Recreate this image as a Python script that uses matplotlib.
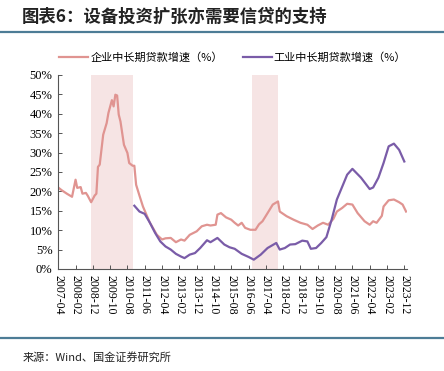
import numpy as np
import pandas as pd
import matplotlib
matplotlib.use("Agg")
import matplotlib.pyplot as plt
from matplotlib.ticker import FuncFormatter

plt.rcParams['font.family'] = ['Noto Sans CJK SC', 'DejaVu Sans']

# 企业中长期贷款增速（%）
ent_dates = ['2007-04', '2007-06', '2007-09', '2007-12', '2008-02', '2008-03', '2008-05', '2008-06',
             '2008-08', '2008-09', '2008-11', '2009-01', '2009-02', '2009-03', '2009-04', '2009-06',
             '2009-08', '2009-09', '2009-11', '2009-12', '2010-01', '2010-02', '2010-03', '2010-04',
             '2010-06', '2010-08', '2010-09', '2010-11', '2010-12', '2011-01', '2011-03', '2011-05',
             '2011-07', '2011-09', '2012-01', '2012-04', '2012-06', '2012-09', '2012-12', '2013-03',
             '2013-05', '2013-08', '2013-12', '2014-03', '2014-06', '2014-08', '2014-11', '2014-12',
             '2015-02', '2015-05', '2015-08', '2015-10', '2015-12', '2016-02', '2016-04', '2016-07',
             '2016-10', '2016-12', '2017-02', '2017-05', '2017-08', '2017-11', '2017-12', '2018-04',
             '2018-08', '2018-12', '2019-04', '2019-07', '2019-10', '2020-01', '2020-04', '2020-07',
             '2020-09', '2020-12', '2021-03', '2021-06', '2021-09', '2022-01', '2022-04', '2022-06',
             '2022-08', '2022-11', '2022-12', '2023-03', '2023-06', '2023-09', '2023-11', '2024-01']
ent_vals = [21.0, 20.3, 19.4, 18.6, 23.0, 20.9, 21.1, 19.4,
            19.6, 18.9, 17.2, 18.9, 19.4, 26.3, 26.9, 34.6,
            37.6, 40.2, 43.5, 41.9, 44.9, 44.7, 39.8, 38.0,
            32.0, 29.9, 27.3, 26.6, 26.6, 21.7, 18.9, 16.1,
            14.0, 11.9, 8.8, 7.6, 7.9, 8.0, 6.9, 7.6,
            7.3, 8.8, 9.7, 11.0, 11.4, 11.2, 11.4, 14.0,
            14.4, 13.3, 12.7, 11.9, 11.2, 11.9, 10.6, 10.1,
            10.1, 11.5, 12.3, 14.4, 16.6, 17.4, 14.8, 13.6,
            12.7, 11.9, 11.4, 10.3, 11.2, 11.9, 11.4, 12.9,
            14.8, 15.7, 16.8, 16.6, 14.4, 12.3, 11.4, 12.3,
            11.9, 13.7, 16.1, 17.7, 17.9, 17.2, 16.6, 14.8]

# 工业中长期贷款增速（%）
ind_dates = ['2010-12', '2011-03', '2011-06', '2011-09', '2011-12', '2012-03', '2012-06', '2012-09',
             '2012-12', '2013-03', '2013-05', '2013-08', '2013-11', '2014-02', '2014-06', '2014-08',
             '2014-12', '2015-04', '2015-07', '2015-10', '2016-02', '2016-06', '2016-09', '2017-01',
             '2017-05', '2017-10', '2017-12', '2018-03', '2018-06', '2018-09', '2019-01', '2019-04',
             '2019-06', '2019-09', '2019-12', '2020-03', '2020-06', '2020-09', '2021-01', '2021-03',
             '2021-06', '2021-11', '2022-04', '2022-06', '2022-09', '2022-12', '2023-03', '2023-06',
             '2023-09', '2023-12']
ind_vals = [16.3, 14.8, 14.2, 11.9, 9.3, 7.1, 5.8, 5.0,
            3.9, 3.2, 2.8, 3.7, 4.1, 5.4, 7.4, 6.9,
            8.0, 6.3, 5.6, 5.2, 3.9, 3.1, 2.4, 3.7,
            5.4, 6.7, 5.0, 5.4, 6.3, 6.4, 7.3, 7.1,
            5.2, 5.4, 6.7, 8.2, 12.7, 17.9, 22.2, 24.3,
            25.8, 23.5, 20.6, 21.0, 23.5, 27.3, 31.6, 32.3,
            30.7, 27.7]

# shaded periods
shade_start = ['2008-11', '2016-08']
shade_end = ['2010-11', '2017-11']

ent_x = pd.to_datetime(ent_dates)
ind_x = pd.to_datetime(ind_dates)
ticks = pd.date_range('2007-04-01', '2023-12-01', freq='10MS')

fig = plt.figure(figsize=(4.44, 3.71), dpi=100)
ax = fig.add_axes([0.131, 0.275, 0.786, 0.523])

for s, e in zip(shade_start, shade_end):
    ax.axvspan(pd.Timestamp(s), pd.Timestamp(e), color='#f6e4e4', lw=0, zorder=0)

ax.plot(ent_x, ent_vals, color='#e09491', lw=1.6, label='企业中长期贷款增速（%）')
ax.plot(ind_x, ind_vals, color='#7a5ca8', lw=1.6, label='工业中长期贷款增速（%）')

ax.set_ylim(0, 50)
ax.set_yticks(np.arange(0, 51, 5))
ax.yaxis.set_major_formatter(FuncFormatter(lambda v, p: '%d%%' % v))
ax.set_xlim(pd.Timestamp('2007-04-01'), pd.Timestamp('2024-01-20'))
ax.set_xticks(ticks)
ax.set_xticklabels([t.strftime('%Y-%m') for t in ticks], rotation=-90,
                   fontfamily='Liberation Serif', fontsize=8.5)
for lab in ax.get_yticklabels():
    lab.set_fontfamily('Liberation Serif')
    lab.set_fontsize(9)

for sp in ['top', 'right']:
    ax.spines[sp].set_visible(False)
for sp in ['left', 'bottom']:
    ax.spines[sp].set_color('#555555')
    ax.spines[sp].set_linewidth(0.8)
ax.tick_params(axis='both', direction='in', length=3, width=0.7, color='#555555')
ax.tick_params(axis='x', pad=4)
ax.tick_params(axis='y', pad=4)

leg = ax.legend(loc='upper center', bbox_to_anchor=(0.5, 1.17), ncol=2, frameon=False,
                fontsize=8, handlelength=2.6, columnspacing=1.8, handletextpad=0.2)

fig.text(0.05, 0.955, '图表6：设备投资扩张亦需要信贷的支持', fontsize=12.5, fontweight='bold',
         style='italic', color='#222222', va='center', ha='left')
fig.add_artist(plt.Line2D([0, 1], [0.915, 0.915], color='#4d7c96', lw=1.6))
fig.add_artist(plt.Line2D([0, 1], [0.089, 0.089], color='#4d7c96', lw=1.6))
fig.text(0.05, 0.038, '来源：Wind、国金证券研究所', fontsize=8, color='#222222',
         va='center', ha='left')

fig.savefig('out.png', dpi=100)
